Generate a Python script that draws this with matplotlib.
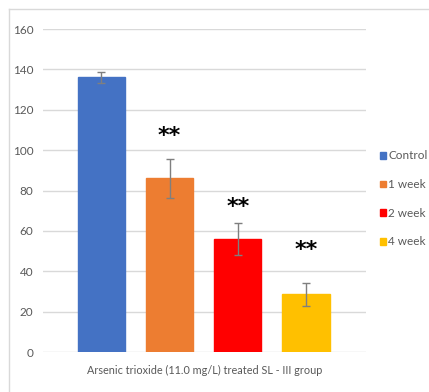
import matplotlib
matplotlib.use("Agg")
import matplotlib.pyplot as plt
from matplotlib.lines import Line2D

plt.rcParams['font.family'] = ['Lato', 'DejaVu Sans']

groups = ['Control', '1 week', '2 week', '4 week']
values = [136, 86, 56, 28.5]
errors = [2.5, 9.5, 8, 5.5]
signif = ['', '**', '**', '**']
colors = ['#4472c4', '#ed7d31', '#ff0000', '#ffc000']
xlabel = 'Arsenic trioxide (11.0 mg/L) treated SL - III group'

fig = plt.figure(figsize=(4.29, 3.92), dpi=100)
ax = fig.add_axes([0.1002, 0.102, 0.7529, 0.824])

x = range(len(groups))
bars = ax.bar(x, values, width=0.69, color=colors, edgecolor=colors, zorder=2,
              label=groups)
ax.errorbar(x, values, yerr=errors, fmt='none', ecolor='#7f7f7f',
            elinewidth=1, capsize=3, capthick=1, zorder=3)

# significance marks above the treated groups
star_y = [0, 107, 72, 50.5]
for i, s in enumerate(signif):
    if s:
        ax.text(i, star_y[i], s, ha='center', va='center', fontsize=16,
                fontweight='bold', family=['DejaVu Sans'], color='black')

ax.set_ylim(0, 160)
ax.set_xlim(-0.858, 3.88)
ax.set_yticks(range(0, 161, 20))
ax.set_xticks([])
ax.yaxis.grid(True, color='#d9d9d9', linewidth=1, zorder=0)
ax.set_axisbelow(True)
for sp in ax.spines.values():
    sp.set_visible(False)
ax.tick_params(axis='y', length=0, pad=7, labelsize=8.5, labelcolor='#595959')
ax.set_xlabel(xlabel, fontsize=7.8, color='#595959', labelpad=9)

ax.legend(bars, groups, loc='center left', bbox_to_anchor=(1.043, 0.474),
          frameon=False, fontsize=8.5, handlelength=0.5, handleheight=0.5,
          handletextpad=0.2, labelspacing=1.5, labelcolor='#595959',
          borderpad=0, borderaxespad=0)

# outer chart frame (top and left edges)
fig.add_artist(Line2D([9 / 429, 1], [1 - 9 / 392, 1 - 9 / 392],
                      transform=fig.transFigure, color='#d9d9d9', lw=1))
fig.add_artist(Line2D([9 / 429, 9 / 429], [0, 1 - 9 / 392],
                      transform=fig.transFigure, color='#d9d9d9', lw=1))

fig.savefig('out.png', dpi=100)
